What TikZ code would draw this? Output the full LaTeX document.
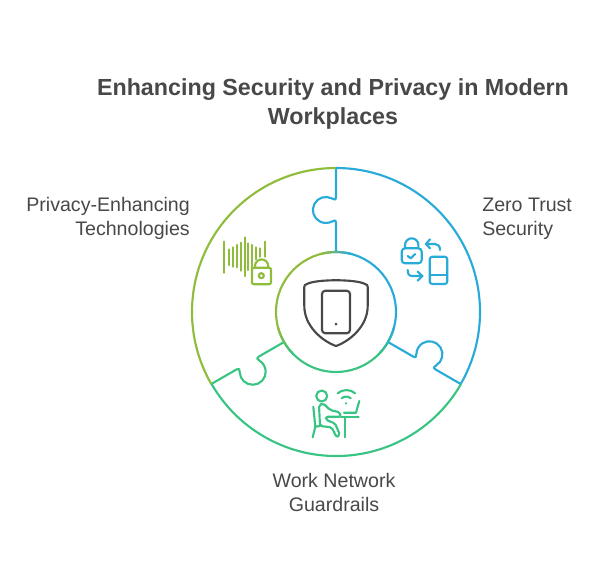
\documentclass[tikz,border=0pt]{standalone}
\usepackage{fontspec}
\setmainfont{Liberation Sans}
\usetikzlibrary{calc}
\definecolor{txtgray}{HTML}{484848}
\definecolor{iconblue}{HTML}{29ABD9}
\definecolor{icongreen}{HTML}{3AC483}
\definecolor{iconolive}{HTML}{8FBC3B}
\tikzset{
	lab/.style={font=\fontsize{14.7}{18}\selectfont,text=txtgray,align=#1,inner sep=0pt},
	ttl/.style={font=\fontsize{17.45}{21.7}\bfseries\selectfont,text=txtgray,align=center,inner sep=0pt},
	ring/.style={line width=1.6pt},
	ico/.style={line width=1.6pt,line cap=round,line join=round}
}
\begin{document}
\begin{tikzpicture}[x=0.75pt,y=-0.75pt]
	\useasboundingbox (0,0) rectangle (613,576);
	\coordinate (O) at (336,312);

	\node[ttl] (title) at (333,104) {Enhancing Security and Privacy in Modern\\Workplaces};
	\node[lab=right,anchor=east] (pet) at (190,218) {Privacy-Enhancing\\Technologies};
	\node[lab=left,anchor=west] (zts) at (482,218.5) {Zero Trust\\Security};
	\node[lab=center] (wng) at (334,492) {Work Network\\Guardrails};

	% seams
	\foreach \ang/\col in {0/iconblue,-120/iconblue,-240/icongreen}
		\draw[ring,color=\col,rotate around={\ang:(O)}] (336,168) -- (336,197) .. controls (336,200) and (334,200) .. (332,198.5)
			arc[start angle=-62,end angle=-298,radius=13] .. controls (334,220) and (336,220) .. (336,223) -- (336,252);

	% outer and inner ring
	\draw[ring,iconolive] (336,168) arc[start angle=-90,end angle=-210,radius=144];
	\draw[ring,iconblue] (336,168) arc[start angle=-90,end angle=30,radius=144];
	\draw[ring,icongreen] (461,384) arc[start angle=30,end angle=150,radius=144];
	\draw[ring,iconolive] (336,252) arc[start angle=-90,end angle=-210,radius=60];
	\draw[ring,iconblue] (336,252) arc[start angle=-90,end angle=30,radius=60];
	\draw[ring,icongreen] (388,342) arc[start angle=30,end angle=150,radius=60];
	\foreach \a/\c/\d in {30/iconblue/icongreen,150/icongreen/iconolive,270/iconolive/iconblue}
		\foreach \t in {0,...,9}{
			\pgfmathtruncatemacro{\p}{\t*11}
			\draw[ring,color=\d!\p!\c] ($(O)+({\a-15+3*\t}:60)$) arc[start angle=\a-15+3*\t,delta angle=3.3,radius=60];
		}

	% shield
	\draw[ico,color=txtgray] (304.3,287) .. controls (304.3,285) and (305,284.6) .. (307,284) .. controls (316,279) and (356,279) .. (365,284)
		.. controls (367,284.6) and (367.7,285) .. (367.7,287) -- (367.7,306) .. controls (367.7,326) and (350,341) .. (336,346)
		.. controls (322,341) and (304.3,326) .. (304.3,306) -- cycle;
	\draw[ico,color=txtgray,rounded corners=2.5] (322,290.7) rectangle (350,333.3);
	\fill[txtgray] (336,324) circle[radius=1.5];

	% wave and lock
	\foreach \x/\a/\b in {224.3/241.7/272.7,228.7/249.3/265,232.7/247.3/266.7,236.7/245/267.3,240.7/242.7/270.7,244.7/237.3/276,248.3/243.3/270,252.3/245/268.3,256/247.3/259.3,260.3/248.3/256.7,264.7/241.7/256.7}
		\draw[ico,color=iconolive] (\x,\a) -- (\x,\b);
	\draw[ico,color=iconolive,rounded corners=1.5] (252,267.7) rectangle (271,284.3);
	\draw[ico,color=iconolive] (255,267.7) -- (255,266) arc[start angle=180,end angle=360,radius=6.6] -- (268.2,267.7);
	\draw[ico,color=iconolive] (261.3,275.7) circle[radius=2.5];

	% padlock, phone and arrows
	\draw[ico,color=iconblue,rounded corners=2.5] (401.7,248.3) rectangle (421.7,263.3);
	\draw[ico,color=iconblue] (405,248.3) -- (405,245) arc[start angle=180,end angle=360,radius=6.7] -- (418.4,248.3);
	\draw[ico,color=iconblue] (407.7,256) -- (410.7,258.3) -- (415,254);
	\draw[ico,color=iconblue,rounded corners=2] (429.7,256.7) rectangle (447.3,284);
	\draw[ico,color=iconblue] (429.7,275) -- (447.3,275);
	\draw[ico,color=iconblue] (440,250) .. controls (440,246) and (438,244) .. (435,244) -- (426,244);
	\draw[ico,color=iconblue] (430,239.3) -- (426,244) -- (430,248.3);
	\draw[ico,color=iconblue] (407.7,270) .. controls (407.7,274) and (409,276) .. (412.3,276) -- (422.3,276);
	\draw[ico,color=iconblue] (417.7,271.7) -- (422.3,276) -- (417.7,280.7);

	% person at desk
	\draw[ico,color=icongreen] (321.7,396) circle[radius=5.5];
	\draw[ico,color=icongreen,rounded corners=1.5] (319,405) -- (323.3,403.3) -- (330,410) -- (340,412.3) -- (340.7,416.7) -- (326,416.7) -- (326,420)
		-- (335,423.3) -- (340,435) -- (336.7,437.3) -- (331.7,427.3) -- (320,426) -- cycle;
	\draw[ico,color=icongreen] (313.3,406.7) -- (315.3,426.7) -- (320,426);
	\draw[ico,color=icongreen] (315.3,426.7) -- (312.7,437.3);
	\draw[ico,color=icongreen] (340.7,416.7) -- (358.7,416.7);
	\draw[ico,color=icongreen] (345,416.7) -- (345,437.3);
	\draw[ico,color=icongreen] (344,412.7) -- (356,412.7) -- (359.3,401);
	\draw[ico,color=icongreen] (337.7,393.3) .. controls (342,389) and (351,389) .. (355,393.3);
	\draw[ico,color=icongreen] (341.7,398.3) .. controls (344,396) and (348,396) .. (350.7,398.3);
	\fill[icongreen] (346,403.3) circle[radius=1.2];
\end{tikzpicture}
\end{document}
